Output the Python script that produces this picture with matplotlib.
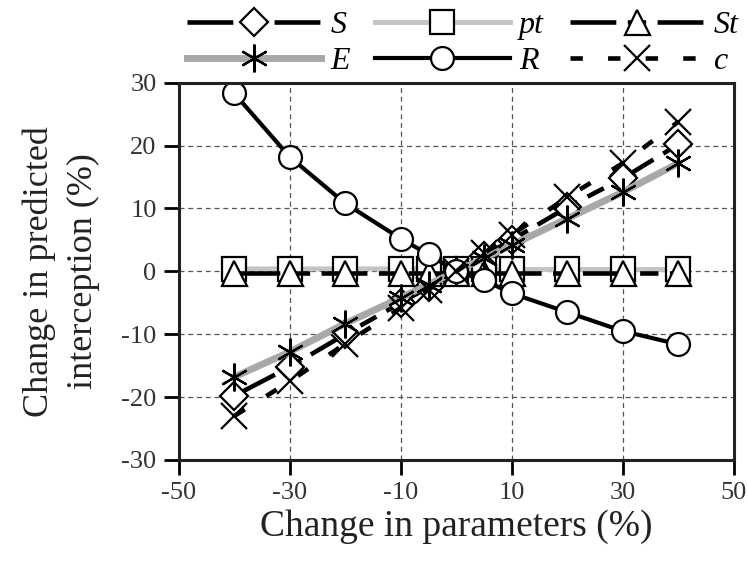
import matplotlib as mpl
import matplotlib.pyplot as plt
import numpy as np

mpl.rcParams['font.family'] = ['Liberation Serif', 'DejaVu Serif']
mpl.rcParams['axes.unicode_minus'] = False

x = [-40, -30, -20, -10, -5, 0, 5, 10, 20, 30, 40]
S = [-19.8, -15.2, -10.0, -5.0, -2.5, 0, 2.5, 5.0, 10.2, 14.8, 20.2]
pt = [0.4, 0.4, 0.4, 0.4, 0.4, 0.3, 0.3, 0.3, 0.3, 0.3, 0.3]
St = [-0.2, -0.2, -0.2, -0.2, -0.2, -0.2, -0.2, -0.2, -0.2, -0.2, -0.2]
E = [-16.8, -12.8, -8.3, -4.2, -2.1, 0, 2.1, 4.2, 8.4, 12.6, 17.2]
R = [28.3, 18.2, 10.8, 5.2, 2.7, 0, -1.4, -3.5, -6.5, -9.5, -11.6]
c = [-23.0, -17.5, -11.5, -5.8, -2.9, 0, 2.9, 5.8, 11.8, 17.2, 23.8]

fig = plt.figure(figsize=(7.48, 5.63), dpi=100)
ax = fig.add_axes([0.239, 0.183, 0.742, 0.670])

mk = dict(markerfacecolor='white', markeredgecolor='black', markeredgewidth=1.6)
longdash = (10, 2.5, 4, 2.5)

hS, = ax.plot(x, S, color='black', lw=3.3, dashes=longdash, marker='D', markersize=14, label='S', **mk)
hpt, = ax.plot(x, pt, color='#c4c4c4', lw=3.5, marker='s', markersize=17, label='pt', **mk)
hSt, = ax.plot(x, St, color='black', lw=3.3, dashes=longdash, marker='^', markersize=18, label='St', **mk)
hE, = ax.plot(x, E, color='#a8a8a8', lw=5, marker=(6, 2, 0), markersize=20, label='E', **mk)
hR, = ax.plot(x, R, color='black', lw=3, marker='o', markersize=16.5, label='R', **mk)
hc, = ax.plot(x, c, color='black', lw=3.3, dashes=(2.7, 5.5), marker='x', markersize=19, label='c', **mk)

ax.set_xlim(-50, 50)
ax.set_ylim(-30, 30)
ax.set_xticks(np.arange(-50, 51, 20))
ax.set_yticks(np.arange(-30, 31, 10))
ax.grid(True, color='#555555', linestyle=(0, (4, 3)), linewidth=0.9)
ax.tick_params(direction='out', length=11, width=2, labelsize=19, pad=5, labelcolor='#333333')
for sp in ax.spines.values():
    sp.set_linewidth(2.2)
    sp.set_color('#222222')

ax.set_xlabel('Change in parameters (%)', fontsize=27, labelpad=4, color='#222222')
ax.set_ylabel('Change in predicted\ninterception (%)', fontsize=26, color='#222222',
              linespacing=1.45)
ax.yaxis.set_label_coords(-0.142, 0.5)

handles = [hS, hE, hpt, hR, hSt, hc]
fig.legend(handles, [h.get_label() for h in handles], ncol=3, loc='upper left',
           bbox_to_anchor=(0.243, 0.99), frameon=False, handlelength=4.2,
           prop=dict(family='Liberation Serif', style='italic', size=23),
           handletextpad=0.3, columnspacing=0.8, labelspacing=0.22,
           borderaxespad=0, borderpad=0.15)

fig.savefig('out.png', dpi=100)
